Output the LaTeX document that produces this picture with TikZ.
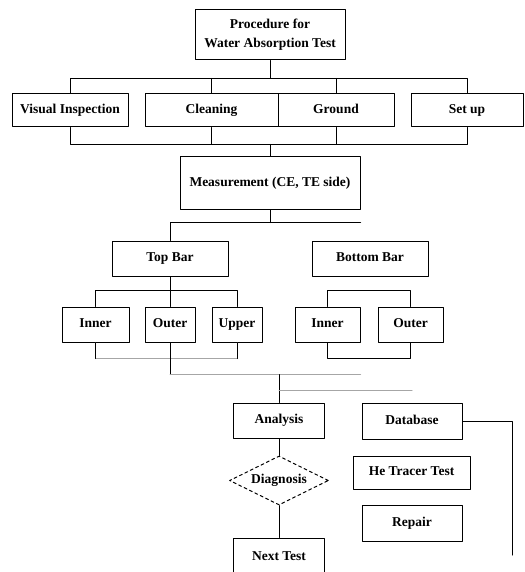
\documentclass[tikz,border=0pt]{standalone}
\usepackage{fontspec}
\setmainfont{Liberation Serif}
\usetikzlibrary{shapes.geometric}

\begin{document}
\begin{tikzpicture}[x=1pt,y=-1pt,line cap=round,line join=round,
  box/.style={draw,line width=1pt,inner sep=0pt,text height=9pt,text depth=3pt,font=\bfseries\fontsize{13.5}{19}\selectfont},
  titlebox/.style={box,text height=,text depth=,align=center},
  link/.style={line width=1pt},
  faint/.style={line width=1pt,draw=black!35}]
\path[use as bounding box] (0,0) rectangle (524,572);
% boxes
\node[titlebox,minimum width=150,minimum height=50] (proc) at (270,35) {Procedure for\\Water Absorption Test};
\node[box,minimum width=116,minimum height=33] (vis) at (70,110.5) {Visual Inspection};
\node[box,minimum width=133,minimum height=33] (clean) at (211.5,110.5) {Cleaning};
\node[box,minimum width=116,minimum height=33] (ground) at (336,110.5) {Ground};
\node[box,minimum width=112,minimum height=33] (setup) at (467,110.5) {Set up};
\node[box,minimum width=180,minimum height=52] (meas) at (270,183) {Measurement (CE, TE side)};
\node[box,minimum width=116,minimum height=35] (topbar) at (170,258.5) {Top Bar};
\node[box,minimum width=116,minimum height=35] (botbar) at (370,258.5) {Bottom Bar};
\node[box,minimum width=67,minimum height=35] (tin) at (95.5,324.5) {Inner};
\node[box,minimum width=50,minimum height=35] (tout) at (170,324.5) {Outer};
\node[box,minimum width=50,minimum height=35] (tup) at (237,324.5) {Upper};
\node[box,minimum width=65,minimum height=35] (bin) at (327.5,324.5) {Inner};
\node[box,minimum width=65,minimum height=35] (bout) at (410.5,324.5) {Outer};
\node[box,minimum width=91,minimum height=35] (ana) at (279,420.5) {Analysis};
\node[box,diamond,dashed,aspect=2,minimum width=99,minimum height=49] (diag) at (279,480.5) {Diagnosis};
\node[box,minimum width=91,minimum height=38] (next) at (279,557) {Next Test};
\node[box,minimum width=100,minimum height=36] (db) at (412,421) {Database};
\node[box,minimum width=117,minimum height=33] (he) at (411.5,472.5) {He Tracer Test};
\node[box,minimum width=100,minimum height=36] (rep) at (412,523) {Repair};
% upper tree
\draw[link] (proc.south) -- ++(0,18) coordinate (bus1);
\draw[link] (vis.north) |- (bus1) -| (setup.north);
\draw[link] (clean.north) -- (clean.north |- bus1);
\draw[link] (ground.north) -- (ground.north |- bus1);
\draw[link] (vis.south) -- ++(0,17) coordinate (bus2) -| (setup.south);
\draw[link] (clean.south) -- (clean.south |- bus2);
\draw[link] (ground.south) -- (ground.south |- bus2);
\draw[link] (meas.north) -- (meas.north |- bus2);
\draw[link] (meas.south) -- ++(0,13) coordinate (bus3);
\draw[link] (topbar.north) |- (bus3) -- (bus3 -| meas.east);
% top bar
\draw[link] (topbar.south) -- (tout.north);
\draw[link] (tin.north) -- ++(0,-16) coordinate (bus4) -| (tup.north);
\draw[faint] (tin.south) -- ++(0,16) -| (tup.south);
\draw[link] (tin.south) -- ++(0,16);
\draw[link] (tup.south) -- ++(0,16);
\draw[link] (tout.south) -- ++(0,32) coordinate (bus5);
\draw[faint] (bus5) -- (bus5 -| bin.east);
% bottom bar
\draw[link] (bin.north) -- ++(0,-16) -| (bout.north);
\draw[link] (bin.south) -- ++(0,16) -| (bout.south);
% lower part
\draw[link] (ana.north) -- (ana.north |- bus5);
\path (ana.north) ++(0,-12) coordinate (bus6);
\draw[faint] (bus6) -- (bus6 -| db.center);
\draw[link] (ana.south) -- (diag.north);
\draw[link] (diag.south) -- (next.north);
\coordinate (dbend) at (512,555);
\draw[link] (db.east) -| (dbend);
\end{tikzpicture}
\end{document}
